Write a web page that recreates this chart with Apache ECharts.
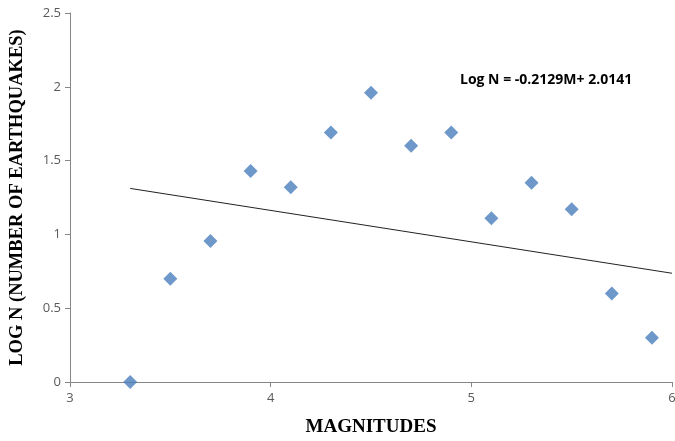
<!DOCTYPE html>
<html>
<head>
<meta charset="utf-8">
<script src="https://cdn.jsdelivr.net/npm/echarts@6/dist/echarts.min.js"></script>
<style>
  html, body { margin: 0; padding: 0; background: #fff; }
  #chart { width: 675px; height: 441px; }
</style>
</head>
<body>
<div id="chart"></div>
<script>
// magnitudes and log N values
const magnitudes = [3.3, 3.5, 3.7, 3.9, 4.1, 4.3, 4.5, 4.7, 4.9, 5.1, 5.3, 5.5, 5.7, 5.9]
const logN = [0, 0.70, 0.955, 1.43, 1.32, 1.69, 1.96, 1.60, 1.69, 1.11, 1.35, 1.17, 0.60, 0.30]

// linear trend as printed on the chart
const slope = -0.2129
const intercept = 2.0141
const trendRange = [3.3, 6]

const points = magnitudes.map((m, i) => [m, logN[i]])
const trend = trendRange.map(m => [m, slope * m + intercept])

const chart = echarts.init(document.getElementById('chart'), null, { renderer: 'canvas' })

const axisGray = '#868686'
const labelStyle = { color: '#595959', fontSize: 13, fontFamily: 'Open Sans, sans-serif' }
const titleStyle = { color: '#000', fontSize: 19, fontWeight: 'bold', fontFamily: 'Liberation Serif, serif' }

chart.setOption({
  backgroundColor: '#fff',
  animation: false,
  grid: { left: 70, right: 3, top: 13, bottom: 59, outerBoundsMode: 'none' },
  xAxis: {
    type: 'value',
    min: 3,
    max: 6,
    interval: 1,
    name: 'MAGNITUDES',
    nameLocation: 'middle',
    nameGap: 36,
    nameTextStyle: titleStyle,
    axisLine: { lineStyle: { color: axisGray } },
    axisTick: { show: true, length: 5, lineStyle: { color: axisGray } },
    axisLabel: { ...labelStyle, margin: 10, showMaxLabel: true },
    splitLine: { show: false }
  },
  yAxis: {
    type: 'value',
    min: 0,
    max: 2.5,
    interval: 0.5,
    name: 'LOG N (NUMBER OF EARTHQUAKES)',
    nameLocation: 'middle',
    nameGap: 43,
    nameTextStyle: { ...titleStyle, fontSize: 18.5 },
    axisLine: { show: true, lineStyle: { color: axisGray } },
    axisTick: { show: true, length: 5, lineStyle: { color: axisGray } },
    axisLabel: { ...labelStyle, margin: 9 },
    splitLine: { show: false }
  },
  series: [
    {
      type: 'scatter',
      data: points,
      symbol: 'diamond',
      symbolSize: 14,
      itemStyle: { color: '#4a7ebb' },
      z: 3
    },
    {
      type: 'line',
      data: trend,
      symbol: 'none',
      lineStyle: { color: '#222', width: 1 },
      z: 2
    }
  ],
  graphic: [
    {
      type: 'text',
      left: 460,
      top: 73,
      style: {
        text: 'Log N = -0.2129M+ 2.0141',
        fill: '#000',
        font: 'bold 14px "Open Sans", sans-serif'
      }
    }
  ]
})
</script>
</body>
</html>
